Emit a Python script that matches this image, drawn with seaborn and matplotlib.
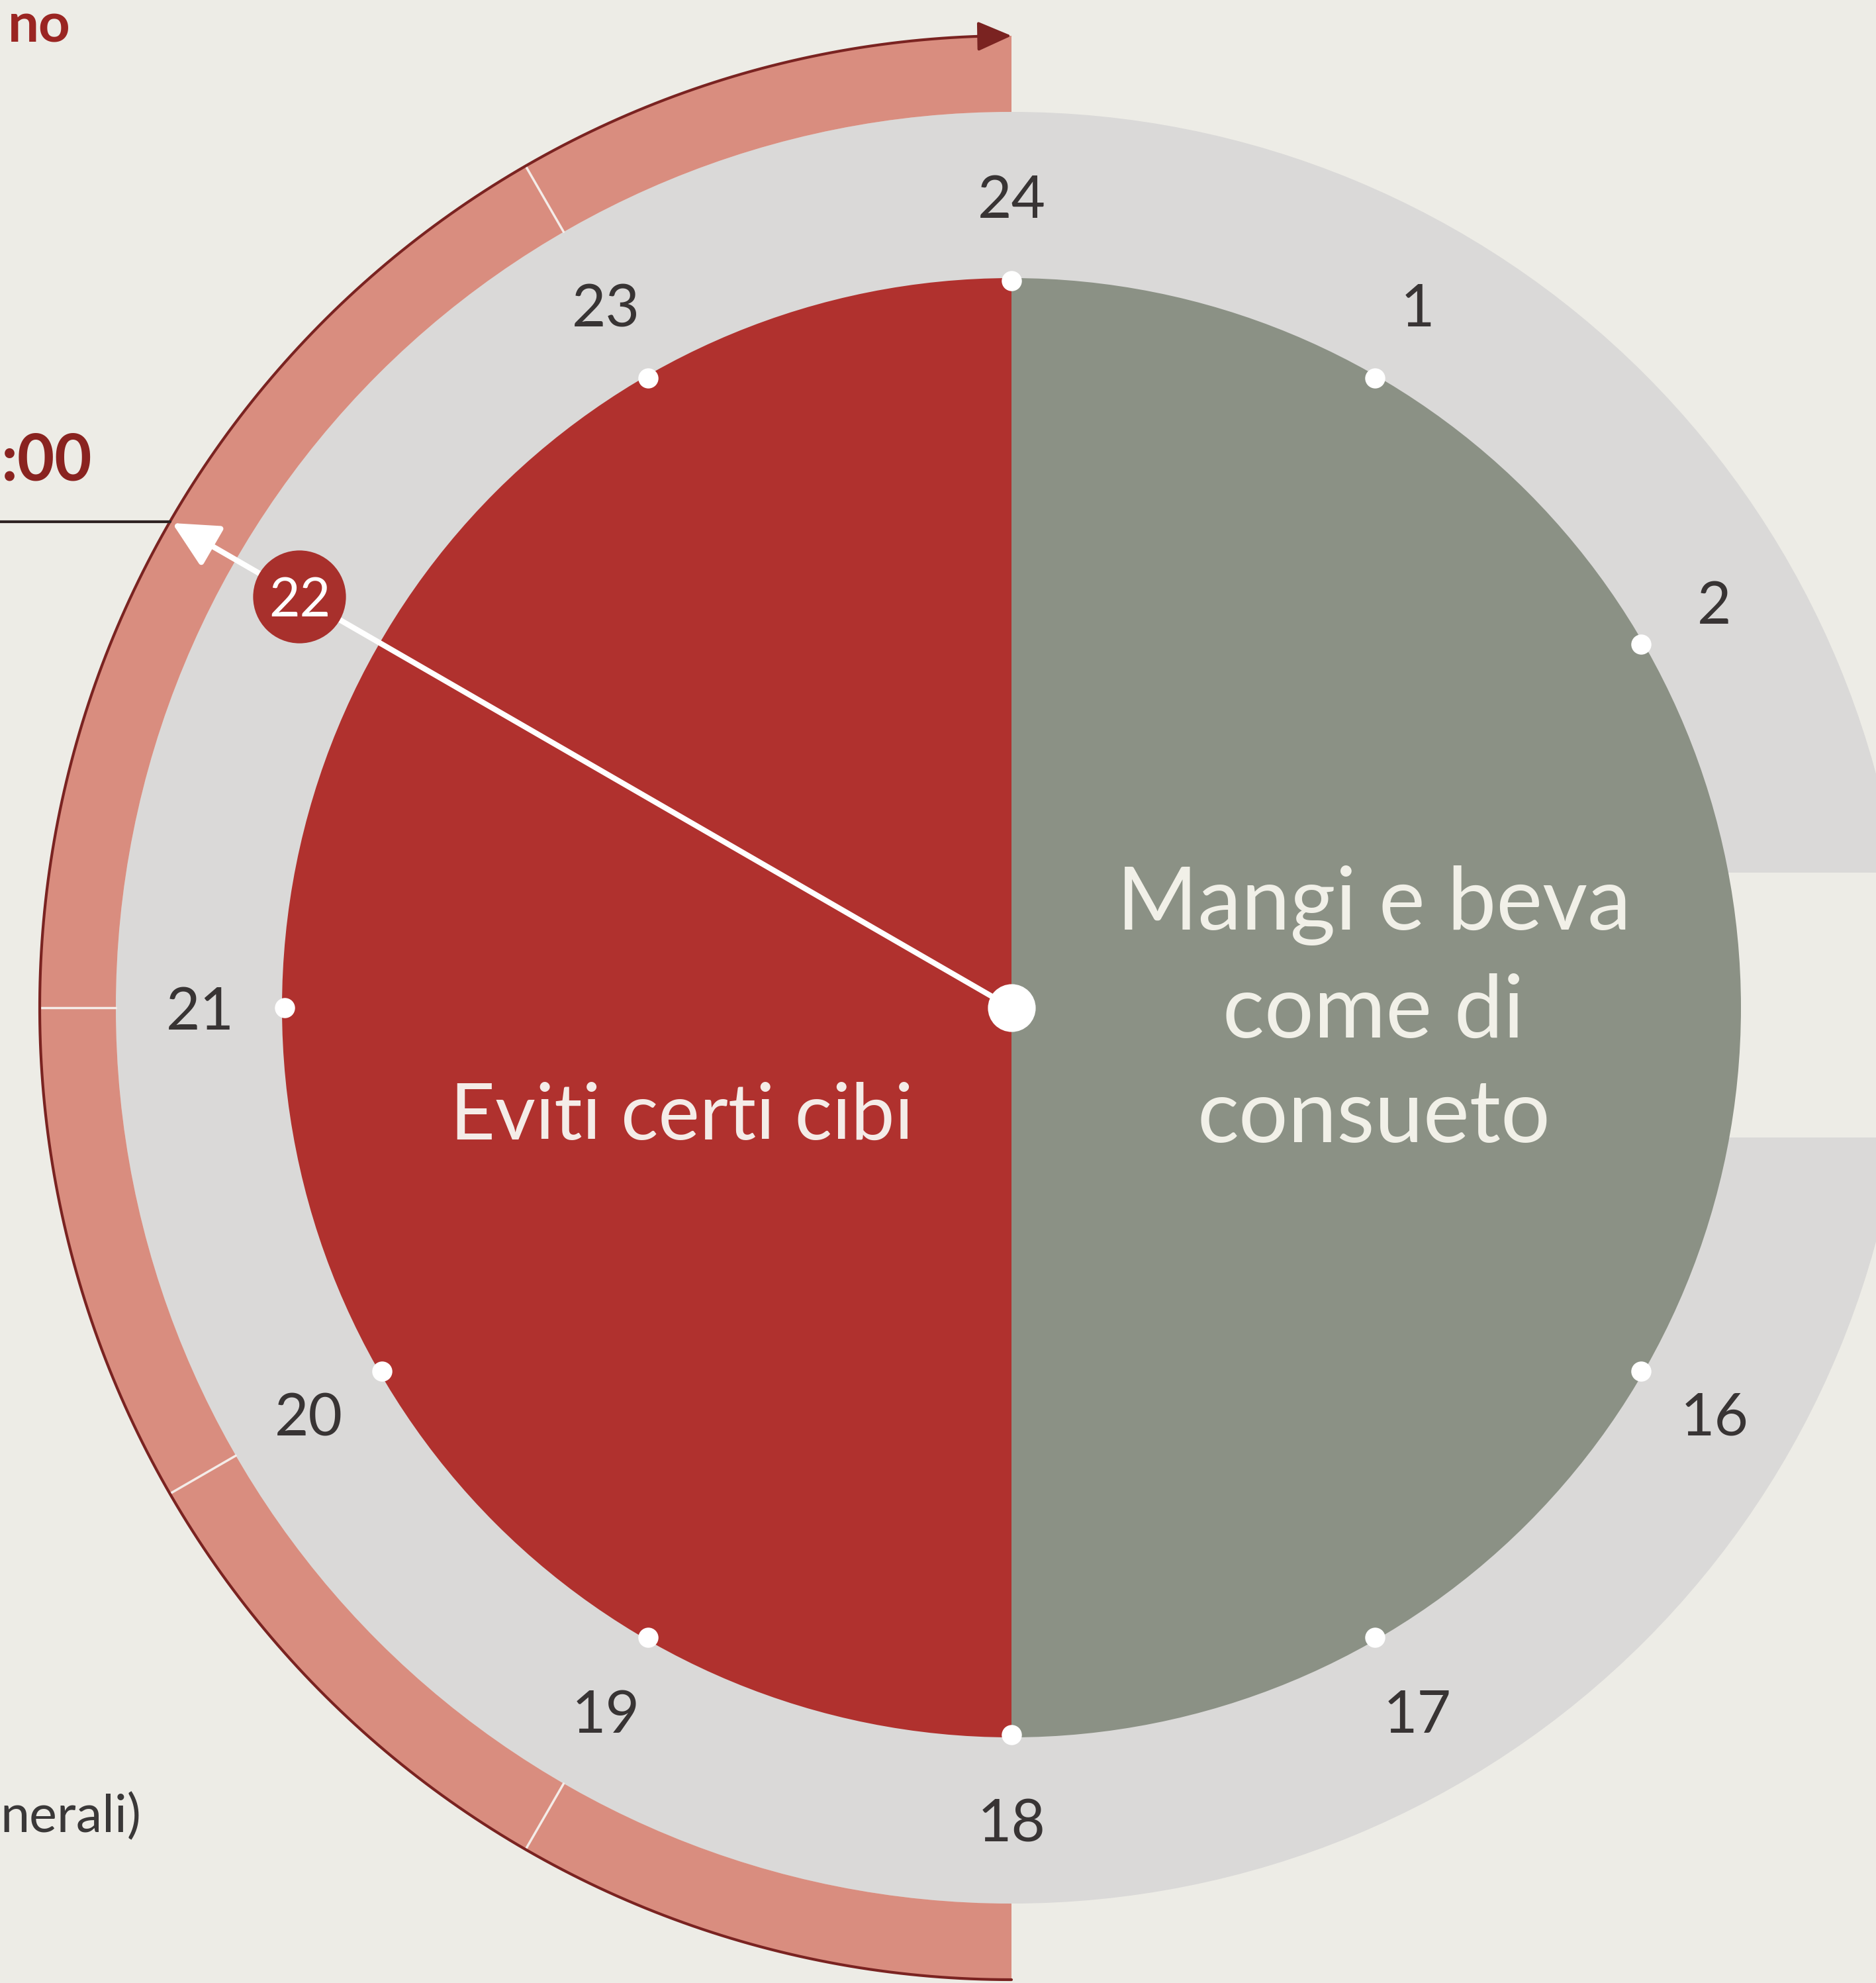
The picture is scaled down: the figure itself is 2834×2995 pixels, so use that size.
import numpy as np
import matplotlib
matplotlib.use("Agg")
import matplotlib.pyplot as plt
from matplotlib.patches import Rectangle
from matplotlib.lines import Line2D
import seaborn as sns

# dial data: hours shown on the clock and their slot on a 12-slot face (slot 3 is the gap)
hours = [24, 1, 2, 16, 17, 18, 19, 20, 21, 22, 23]
slots = [0, 1, 2, 4, 5, 6, 7, 8, 9, 10, 11]
marked_hour = 22
band_breaks = [19, 20, 21, 23]
right_lines = ["Mangi e beva", "come di", "consueto"]
left_label = "Eviti certi cibi"
half_slots = [3, 9]          # centre of right half / left half
half_colors = ["#8b9185", "#b0312e"]

BG = "#edece6"
RING = "#dad9d8"
SALMON = "#d98d7f"
DARK = "#7a2321"
TXT = "#383434"

W, H, DPI = 2834, 2995, 100
CX, CY, RMAX = 1528, 1522, 1500
R_DISK, R_RING, R_BAND, R_LABEL = 1102, 1353, 1468, 1226

sns.set_theme(style="white")
plt.rcParams["font.family"] = ["Lato", "DejaVu Sans"]

theta = {h: s * 2 * np.pi / 12 for h, s in zip(hours, slots)}

fig = plt.figure(figsize=(W / DPI, H / DPI), dpi=DPI, facecolor=BG)
ax = fig.add_axes([(CX - RMAX) / W, (H - CY - RMAX) / H, 2 * RMAX / W, 2 * RMAX / H],
                  projection="polar")
ax.set_theta_zero_location("N")
ax.set_theta_direction(-1)
ax.set_axis_off()

# light grey ring and salmon band on the left half
ax.bar(0, R_RING, width=2 * np.pi, bottom=0, color=RING, linewidth=0, zorder=1)
ax.bar(1.5 * np.pi, R_BAND - R_RING, width=np.pi, bottom=R_RING, color=SALMON,
       linewidth=0, zorder=1)
# gap in the ring at 3 o'clock
ax.add_patch(Rectangle((0.5 + 1000 / (2 * RMAX), 0.5 - 196 / (2 * RMAX)),
                       700 / (2 * RMAX), 400 / (2 * RMAX), transform=ax.transAxes,
                       facecolor=BG, edgecolor="none", zorder=2))
for h in band_breaks:
    ax.plot([theta[h], theta[h]], [R_RING, R_BAND], color="#f4ece8", lw=2.5, zorder=2)

# dark outline with arrow head at the top
arc = np.linspace(np.pi, 2 * np.pi - 0.02, 300)
ax.plot(arc, np.full_like(arc, R_BAND), color=DARK, lw=3, zorder=3)
ax.annotate("", xy=(2 * np.pi, R_BAND), xytext=(2 * np.pi - 0.035, R_BAND),
            arrowprops=dict(arrowstyle="-|>,head_length=0.8,head_width=0.35",
                            mutation_scale=40, color=DARK, lw=3,
                            shrinkA=0, shrinkB=0), zorder=3)

# the two halves of the disk
ax.bar([s * 2 * np.pi / 12 for s in half_slots], R_DISK, width=np.pi, bottom=0,
       color=half_colors, linewidth=0, zorder=3)

# hour dots and labels
others = [h for h in hours if h != marked_hour]
sns.scatterplot(x=[theta[h] for h in others], y=[R_DISK - 4] * len(others), ax=ax,
                s=480, color="white", linewidth=0, zorder=5, legend=False)
for h in others:
    ax.text(theta[h], R_LABEL, str(h), ha="center", va="center_baseline", fontsize=64,
            color=TXT, zorder=5)

# pointer to 22
ax.annotate("", xy=(theta[marked_hour], R_BAND - 4), xytext=(0, 0),
            arrowprops=dict(arrowstyle="-|>,head_length=0.6,head_width=0.3",
                            mutation_scale=70, color="white", lw=6,
                            shrinkA=0, shrinkB=0), zorder=6)
sns.scatterplot(x=[0], y=[0], ax=ax, s=2700, color="white", linewidth=0,
                zorder=7, legend=False)
sns.scatterplot(x=[theta[marked_hour]], y=[R_LABEL + 16], ax=ax, s=10200,
                color="#a8302c", linewidth=0, zorder=7, legend=False)
ax.text(theta[marked_hour], R_LABEL + 16, str(marked_hour), ha="center",
        va="center_baseline", fontsize=58, color="white", zorder=8)
ax.set_xlabel("")
ax.set_ylabel("")
ax.set_rlim(0, RMAX)

# disk texts
for line, y in zip(right_lines, [1356, 1518, 1677]):
    fig.text(2075 / W, 1 - y / H, line, ha="center", va="center_baseline",
             fontsize=95, color="#f1f0e8", zorder=9)
fig.text(1030 / W, 1 - 1677 / H, left_label, ha="center", va="center_baseline",
         fontsize=85, color="#f4ece8", zorder=9)

# leader line from the arrow tip to the left margin
tip = ax.transData.transform((theta[marked_hour], R_BAND))
fig.add_artist(Line2D([0, tip[0] / W], [tip[1] / H, tip[1] / H],
                      transform=fig.transFigure, color="#2e2222", lw=3))

# page text at the left edge
fig.text(12 / W, 1 - 2 / H, "no", ha="left", va="top", fontsize=60,
         fontweight="bold", color="#9a2522")
fig.text(2 / W, 1 - 697 / H, ":00", ha="left", va="center", fontsize=70,
         fontweight="bold", color="#8a2320")
fig.text(0 / W, 1 - 2745 / H, "nerali)", ha="left", va="center", fontsize=57,
         color="#3a3838")

fig.savefig("out.png", dpi=DPI, facecolor=fig.get_facecolor())
